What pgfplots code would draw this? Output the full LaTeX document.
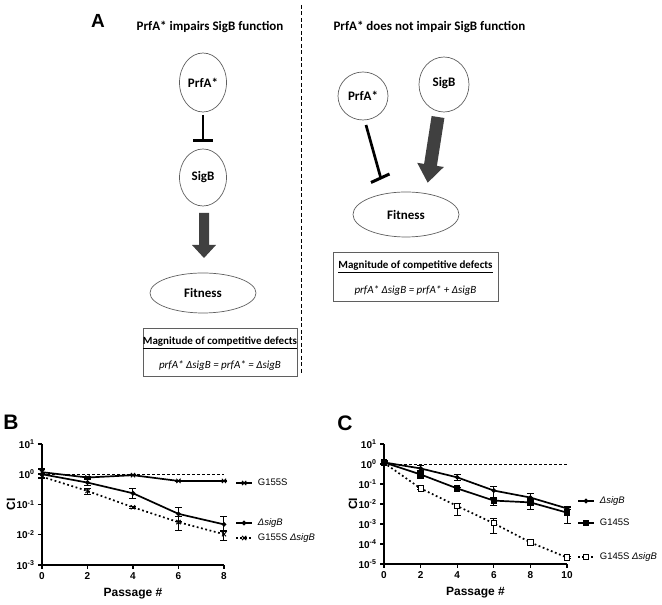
\documentclass[border=0pt]{standalone}
\usepackage{fontspec}
\setmainfont{Liberation Sans}
\newfontfamily\cali{Carlito}
\usepackage{pgfplots}
\usepackage{pgfplotstable}
\pgfplotsset{compat=1.18}
\definecolor{arrowgray}{RGB}{64,64,64}
\definecolor{edgegray}{RGB}{95,95,95}

% panel B: x = passage, y = CI, ep/em = error up/down
\pgfplotstableread{
x y ep em
0 1.17 0.30 0.15
2 0.78 0.05 0.05
4 0.93 0.05 0.05
6 0.60 0.03 0.03
8 0.60 0.03 0.03
}\bGsf
\pgfplotstableread{
x y ep em
0 1.00 0.50 0.22
2 0.53 0.12 0.11
4 0.235 0.11 0.08
6 0.049 0.032 0.022
8 0.022 0.018 0.0093
}\bSig
\pgfplotstableread{
x y ep em
0 0.83 0.15 0.12
2 0.28 0.065 0.062
4 0.081 0.008 0.008
6 0.026 0.014 0.012
8 0.0104 0.0033 0.0041
}\bDbl
% panel C
\pgfplotstableread{
x y ep em
0 1.20 0.25 0.20
2 0.60 0.23 0.19
4 0.215 0.085 0.068
6 0.047 0.027 0.028
8 0.021 0.013 0.009
10 0.006 0.0008 0.0008
}\cSig
\pgfplotstableread{
x y ep em
0 1.20 0.20 0.20
2 0.30 0.15 0.11
4 0.060 0.008 0.008
6 0.0148 0.006 0.0065
8 0.012 0.007 0.0064
10 0.0037 0.0042 0.0026
}\cGfs
\pgfplotstableread{
x y ep em
0 1.15 0.10 0.10
2 0.060 0.005 0.005
4 0.0079 0.0029 0.0051
6 0.00108 0.0007 0.00074
8 0.00012 0.00001 0.00001
10 0.000021 0.000002 0.000002
}\cDbl

\newcommand\tl[1]{10\textsuperscript{#1}}
\newcommand\dsig{\textit{ΔsigB}}

\pgfplotsset{
  myprism/.style={
    scale only axis, clip=false,
    axis x line*=bottom, axis y line*=left,
    axis line style={line width=1.4pt},
    major tick style={line width=1.2pt, black},
    tick align=outside, major tick length=4pt,
    yminorticks=false,
    ticklabel style={font=\fontsize{10}{12}\selectfont\bfseries},
    xlabel={\bfseries Passage \#}, ylabel={\bfseries CI},
    label style={font=\fontsize{12}{14}\selectfont},
    xlabel style={at={(axis description cs:0.5,0)}, anchor=center, yshift=-29pt},
    ylabel style={at={(axis description cs:0,0.5)}, anchor=center, yshift=31pt},
  },
  myser/.style={black, line width=1.7pt},
  myeb/.style={error bars/y dir=both, error bars/y explicit,
    error bars/error bar style={line width=1pt, solid},
    error bars/error mark options={rotate=90, mark size=3.5pt, line width=1pt, solid}},
  mydots/.style={dash pattern=on 1.8pt off 2.6pt},
}

\newcommand\legitem[4]{%
\begin{axis}[hide axis, scale only axis, width=1pt, height=1pt,
  xmin=0, xmax=1, ymin=0, ymax=1, at={(#1pt,#2pt)}, anchor=west,
  legend style={draw=none, fill=none, at={(0,0.5)}, anchor=west,
    inner sep=0pt, column sep=3pt, font=\fontsize{9.5}{11}\selectfont,
    legend cell align=left},
  legend image code/.code={\draw[mark repeat=2,mark phase=2,##1]
    plot coordinates {(0pt,0pt) (8pt,0pt) (16pt,0pt)};}]
\addlegendimage{#3}\addlegendentry{#4}
\end{axis}}

\begin{document}
\begin{tikzpicture}[x=1pt, y=1pt]
\path[use as bounding box] (0,0) rectangle (662,605);

% ---------- panel A ----------
\node[font=\fontsize{19}{21}\selectfont\bfseries] at (98,584) {A};
\draw[line width=0.8pt, dash pattern=on 4pt off 2.5pt] (301,600) -- (301,230);

\tikzset{tfont/.style={font=\cali\bfseries\fontsize{13}{15}\selectfont}}
\node[tfont] at (210,578) {PrfA* impairs SigB function};
\node[tfont, anchor=west] at (330,578) {PrfA* does not impair SigB function};

% left
\draw[edgegray, line width=0.7pt] (203,522.5) ellipse [x radius=23.5pt, y radius=29.5pt];
\node[tfont] at (203,522.5) {PrfA*};
\draw[line width=2.7pt] (203,490) -- (203,464);
\draw[line width=3pt] (193,464) -- (213,464);
\draw[edgegray, line width=0.7pt] (203,427.5) ellipse [x radius=23.5pt, y radius=28.5pt];
\node[tfont] at (203,427.5) {SigB};
\fill[arrowgray] (199,392) -- (209,392) -- (209,360) -- (216,360) -- (204,347)
  -- (192,360) -- (199,360) -- cycle;
\draw[edgegray, line width=0.7pt] (203,312) ellipse [x radius=53pt, y radius=20pt];
\node[tfont] at (203,312) {Fitness};
\draw[edgegray, line width=1pt] (143,228) rectangle (297,276);
\node[font=\cali\bfseries\fontsize{11}{13}\selectfont] at (220,262)
  {\underline{Magnitude of competitive defects}};
\node[font=\cali\itshape\fontsize{11}{13}\selectfont] at (220,239)
  {prfA* ΔsigB = prfA* = ΔsigB};

% right
\draw[edgegray, line width=0.7pt] (363,509) ellipse [x radius=25pt, y radius=24pt];
\node[tfont] at (363,509) {PrfA*};
\draw[edgegray, line width=0.7pt] (444,520.5) ellipse [x radius=25pt, y radius=27.5pt];
\node[tfont] at (444,522) {SigB};
\draw[line width=2.7pt] (366,480) -- (380.5,428);
\draw[line width=3pt] (371,422.5) -- (389.5,431);
\fill[arrowgray] (444.4,487.0) -- (436.9,439.1) -- (443.8,438.0) -- (427.7,422.3)
  -- (417.2,442.2) -- (424.1,441.1) -- (431.6,489.0) -- cycle;
\draw[edgegray, line width=0.7pt] (406,390.5) ellipse [x radius=53pt, y radius=22.5pt];
\node[tfont] at (406,390.5) {Fitness};
\draw[edgegray, line width=1pt] (333,303) rectangle (498,352);
\node[font=\cali\bfseries\fontsize{11}{13}\selectfont] at (415.5,338)
  {\underline{Magnitude of competitive defects}};
\node[font=\cali\itshape\fontsize{11}{13}\selectfont] at (415.5,314)
  {prfA* ΔsigB = prfA* + ΔsigB};

% ---------- panel B ----------
\node[font=\fontsize{21}{23}\selectfont\bfseries] at (11,183) {B};
\begin{axis}[myprism, ymode=log, at={(42pt,40pt)}, anchor=south west, width=182pt, height=121pt,
  xmin=0, xmax=8, ymin=1e-3, ymax=10, xtick={0,2,4,6,8}, xticklabels={0,2,4,6,8},
  ytick={1e-3,1e-2,1e-1,1,10},
  yticklabels={\tl{-3},\tl{-2},\tl{-1},\tl{0},\tl{1}}]
\addplot[black, line width=0.7pt, densely dashed] coordinates {(0,1) (8,1)};
\addplot[myser, mydots, mark=x, mark size=3pt, mark options={solid, line width=1pt}, myeb]
  table[x=x, y=y, y error plus=ep, y error minus=em] {\bDbl};
\addplot[myser, mark=*, mark size=1.4pt, myeb]
  table[x=x, y=y, y error plus=ep, y error minus=em] {\bSig};
\addplot[myser, mark=x, mark size=3pt, mark options={line width=1pt}, myeb]
  table[x=x, y=y, y error plus=ep, y error minus=em] {\bGsf};
\end{axis}
\legitem{235}{122}{myser, mark=x, mark size=3pt, mark options={line width=1pt}}{G155S}
\legitem{235}{82}{myser, mark=*, mark size=1.4pt}{\dsig}
\legitem{235}{67}{myser, mydots, mark=x, mark size=3pt, mark options={solid, line width=1pt}}{G155S \dsig}

% ---------- panel C ----------
\node[font=\fontsize{21}{23}\selectfont\bfseries] at (345,182) {C};
\begin{axis}[myprism, ymode=log, at={(384pt,41pt)}, anchor=south west, width=183pt, height=120pt,
  xmin=0, xmax=10, ymin=1e-5, ymax=10, xtick={0,2,4,6,8,10}, xticklabels={0,2,4,6,8,10},
  ytick={1e-5,1e-4,1e-3,1e-2,1e-1,1,10},
  yticklabels={\tl{-5},\tl{-4},\tl{-3},\tl{-2},\tl{-1},\tl{0},\tl{1}}]
\addplot[black, line width=0.7pt, densely dashed] coordinates {(0,1) (10,1)};
\addplot[myser, mydots, mark=square*, mark size=2.6pt,
  mark options={solid, fill=white, line width=1pt}, myeb]
  table[x=x, y=y, y error plus=ep, y error minus=em] {\cDbl};
\addplot[myser, mark=square*, mark size=2.4pt, myeb]
  table[x=x, y=y, y error plus=ep, y error minus=em] {\cGfs};
\addplot[myser, mark=*, mark size=1.4pt, myeb]
  table[x=x, y=y, y error plus=ep, y error minus=em] {\cSig};
\end{axis}
\legitem{577}{104}{myser, mark=*, mark size=1.4pt}{\dsig}
\legitem{577}{82}{myser, mark=square*, mark size=2.4pt}{G145S}
\legitem{577}{48}{myser, mydots, mark=square*, mark size=2.6pt, mark options={solid, fill=white, line width=1pt}}{G145S \dsig}
\end{tikzpicture}
\end{document}
